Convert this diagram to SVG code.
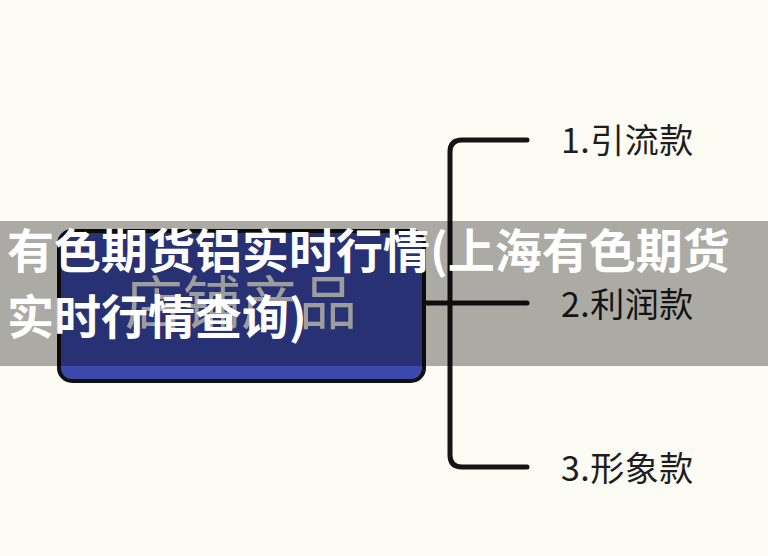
<svg xmlns="http://www.w3.org/2000/svg" width="768" height="556" viewBox="0 0 768 556">
<style>
.conn{fill:none;stroke:#151515;stroke-width:5;stroke-linecap:round;stroke-linejoin:round}
.lbl{font-family:"Noto Sans CJK SC","Noto Sans",sans-serif;font-size:34px;letter-spacing:0.5px;fill:#1e1e1e}
.title{font-family:"Noto Sans CJK SC","Noto Sans",sans-serif;font-size:47px;font-weight:bold;fill:#ffffff}
</style>
<rect width="768" height="556" fill="#fcfbf4"/>
<g id="connectors">
<path class="conn" d="M425,303 H527"/>
<path class="conn" d="M527,140 H462 Q450,140 450,152 V455 Q450,467 462,467 H527"/>
</g>
<g id="node-root">
<rect x="59" y="231" width="365" height="150" rx="13" fill="#3b49ac" stroke="#111" stroke-width="4"/>
<text x="241" y="324" text-anchor="middle" font-family="'Noto Sans CJK SC','Noto Sans',sans-serif" font-size="58" fill="#e8e8e8">店铺产品</text>
</g>
<g id="node-1"><text class="lbl" x="561" y="153">1.引流款</text></g>
<g id="node-2"><text class="lbl" x="561" y="317">2.利润款</text></g>
<g id="node-3"><text class="lbl" x="561" y="481">3.形象款</text></g>
<g id="banner">
<rect x="0" y="221" width="768" height="145" fill="#000" fill-opacity="0.32"/>
<text class="title" x="7" y="268">有色期货铝实时行情(上海有色期货</text>
<text class="title" x="7" y="334">实时行情查询)</text>
</g>
</svg>
